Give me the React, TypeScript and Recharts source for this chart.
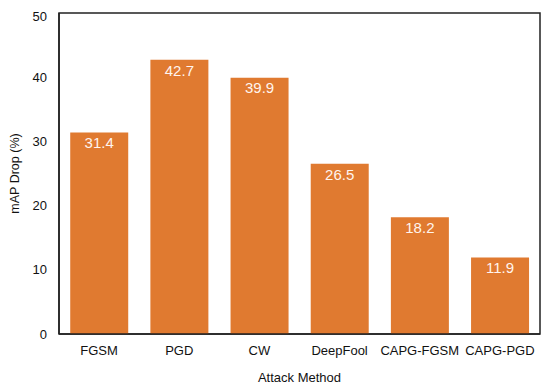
import React from "react";
import { BarChart, Bar, XAxis, YAxis, LabelList, ReferenceArea } from "recharts";

const categories = ["FGSM", "PGD", "CW", "DeepFool", "CAPG-FGSM", "CAPG-PGD"];
const mapDrop = [31.4, 42.7, 39.9, 26.5, 18.2, 11.9];
const yTicks = [0, 10, 20, 30, 40, 50];

const data = categories.map((name, i) => ({ name, value: mapDrop[i] }));

const font = "'Liberation Sans', Arial, Helvetica, sans-serif";

export default function App() {
  return (
    <div style={{ width: 534, height: 376 }}>
      <BarChart
        width={534}
        height={376}
        data={data}
        margin={{ top: 5, right: 2, bottom: 0, left: 0 }}
        barCategoryGap="14%"
      >
        <XAxis
          dataKey="name"
          height={50}
          tickLine={false}
          tickSize={0}
          tickMargin={12}
          axisLine={{ stroke: "#222", strokeWidth: 1.5 }}
          tick={{ fill: "#111", fontSize: 13, fontFamily: font }}
          interval={0}
          label={{ value: "Attack Method", position: "insideBottom", offset: 2, fill: "#111", fontSize: 13, fontFamily: font }}
        />
        <YAxis
          domain={[0, 50]}
          ticks={yTicks}
          width={51}
          tickLine={false}
          tickSize={0}
          tickMargin={12}
          axisLine={{ stroke: "#222", strokeWidth: 1.5 }}
          tick={{ fill: "#111", fontSize: 13, fontFamily: font }}
          label={{ value: "mAP Drop (%)", angle: -90, position: "center", dx: -19, dy: 0, fill: "#111", fontSize: 12.5, fontFamily: font }}
        />
        <Bar dataKey="value" fill="#E07A30" isAnimationActive={false}>
          <LabelList dataKey="value" position="insideTop" offset={5} fill="#fff4ee" fontSize={15} fontFamily={font} />
        </Bar>
        <ReferenceArea y1={0} y2={50} fill="none" fillOpacity={0} stroke="#222" strokeWidth={1.5} ifOverflow="visible" />
      </BarChart>
    </div>
  );
}
